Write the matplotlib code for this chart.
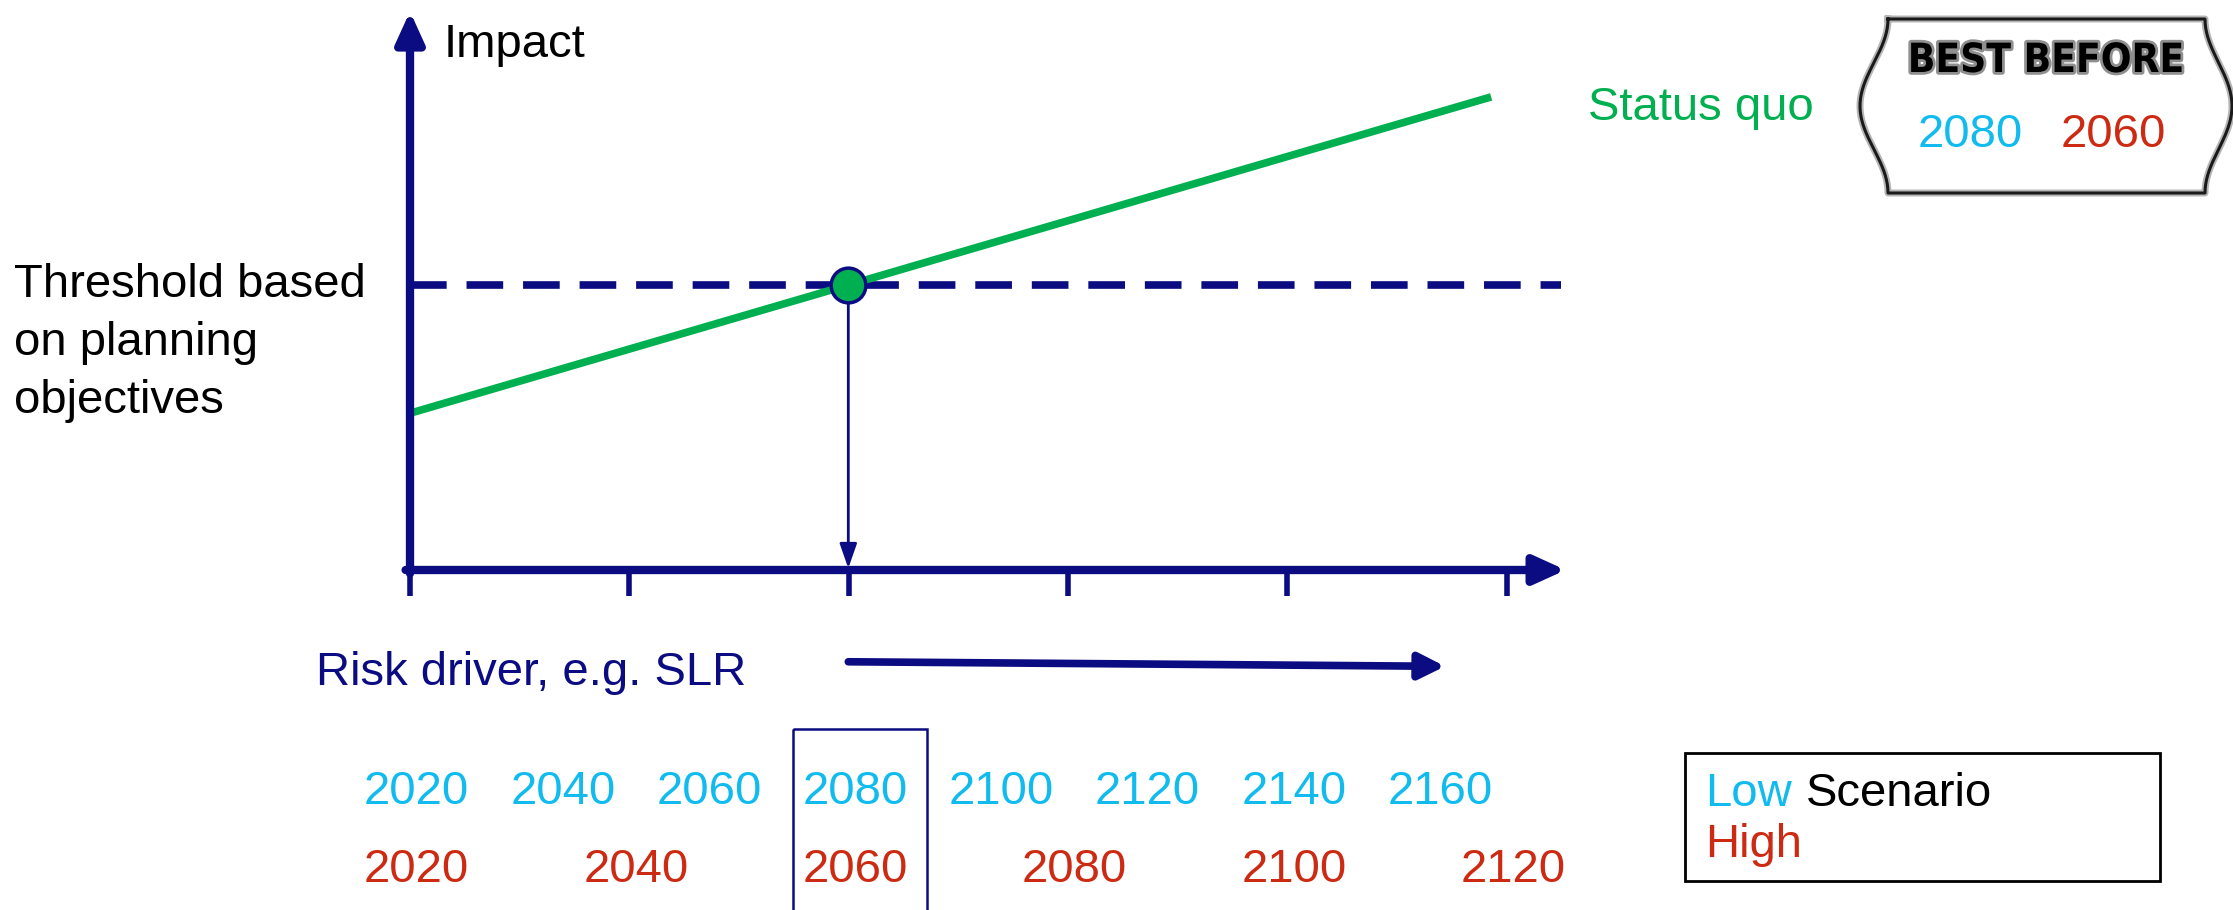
import numpy as np
import matplotlib
matplotlib.use("Agg")
import matplotlib.pyplot as plt
from matplotlib import patheffects
from matplotlib.patches import Rectangle
from matplotlib.transforms import blended_transform_factory

plt.rcParams['font.family'] = ['Liberation Sans', 'DejaVu Sans']

NAVY = '#0c0c82'
GREEN = '#00b050'
CYAN = '#12bbee'
RED = '#cc2a12'

# risk driver ticks and the status quo impact curve
driver_ticks = [0, 1, 2, 3, 4, 5]
status_quo_driver = [0.0, 4.93]
status_quo_impact = [2.75, 8.30]
threshold = 5.0

# years reached at each tick under the two scenarios
low_years = [2020, 2040, 2060, 2080, 2100, 2120, 2140, 2160]
high_years = [2020, 2040, 2060, 2080, 2100, 2120]
low_years_per_tick = 30
high_years_per_tick = 20

threshold_lines = ['Threshold based', 'on planning', 'objectives']

W, H = 2233, 910
fig = plt.figure(figsize=(W / 100, H / 100), dpi=100)

# pixel-space layer for labels and decorations
deco = fig.add_axes([0, 0, 1, 1])
deco.set_xlim(0, W)
deco.set_ylim(H, 0)
deco.axis('off')

# diagram axes: origin of the risk/impact plane
ox, oy = 410, 570
sx, sy = 219.3, 57.0
ax = fig.add_axes([0, 0, 1, 1])
ax.set_xlim(-ox / sx, (W - ox) / sx)
ax.set_ylim(-(H - oy) / sy, oy / sy)
ax.axis('off')
ax.patch.set_visible(False)

axis_arrow = dict(arrowstyle='-|>,head_length=1.1,head_width=0.5', color=NAVY,
                  lw=6, shrinkA=0, shrinkB=0, mutation_scale=17)
ax.annotate('', xy=(5.27, 0), xytext=(-0.02, 0), arrowprops=axis_arrow)
ax.annotate('', xy=(0, 9.8), xytext=(0, -0.06), arrowprops=axis_arrow)
ax.vlines(driver_ticks, -0.46, 0, color=NAVY, lw=4)

ax.plot([0, 5.25], [threshold, threshold], color=NAVY, lw=5.5,
        ls=(0, (4.8, 2.6)), dash_capstyle='butt')
ax.plot(status_quo_driver, status_quo_impact, color=GREEN, lw=5.5,
        solid_capstyle='butt')

# where the status quo crosses the threshold
x_cross = np.interp(threshold, status_quo_impact, status_quo_driver)
ax.annotate('', xy=(x_cross, 0.03), xytext=(x_cross, threshold),
            arrowprops=dict(arrowstyle='-|>,head_length=1.0,head_width=0.35',
                            color=NAVY, lw=2, shrinkA=0, shrinkB=0,
                            mutation_scale=15), zorder=3)
ax.plot(x_cross, threshold, 'o', ms=25, mfc=GREEN, mec=NAVY, mew=2.5, zorder=5)

# risk driver direction arrow
ax.annotate('', xy=(4.72, -1.69), xytext=(x_cross, -1.61),
            arrowprops=dict(arrowstyle='-|>,head_length=1.1,head_width=0.55',
                            color=NAVY, lw=5.5, shrinkA=0, shrinkB=0,
                            mutation_scale=14))

# scenario year rows under the axis
row = blended_transform_factory(ax.transData, deco.transData)
for yr in low_years:
    ax.text((yr - low_years[0]) / low_years_per_tick + 0.03, 804, str(yr),
            transform=row, ha='center', va='baseline', color=CYAN, fontsize=34)
for yr in high_years:
    ax.text((yr - high_years[0]) / high_years_per_tick + 0.03, 882, str(yr),
            transform=row, ha='center', va='baseline', color=RED, fontsize=34)
ax.add_patch(Rectangle((x_cross - 0.25, 729), 0.61, 200, transform=row,
                       fill=False, ec=NAVY, lw=1.8, clip_on=False))

# labels
deco.text(444, 57, 'Impact', fontsize=34, va='baseline')
for i, line in enumerate(threshold_lines):
    deco.text(14, 297 + 58 * i, line, fontsize=34, va='baseline')
deco.text(1588, 120, 'Status quo', fontsize=34, va='baseline', color=GREEN)
deco.text(316, 685, 'Risk driver, e.g. SLR', fontsize=34, va='baseline', color=NAVY)

# scenario key
deco.add_patch(Rectangle((1685, 753), 475, 128, fill=False, ec='black', lw=2))
low = deco.text(1705, 806, 'Low', fontsize=34, va='baseline', color=CYAN)
deco.annotate('Scenario', xy=(1, 0), xycoords=low, xytext=(10, 0),
              textcoords='offset points', va='bottom', fontsize=34)
deco.text(1705, 857, 'High', fontsize=34, va='baseline', color=RED)

# "best before" sticker
t = np.linspace(0, 1, 80)
top, bot = 19, 193
ys = top + (bot - top) * t
left = 1888 - 28 * np.sin(np.pi * t) ** 2
right = 2205 + 27 * np.sin(np.pi * t) ** 2
sx_ = np.concatenate([[1888], right, left[::-1]])
sy_ = np.concatenate([[top], ys, ys[::-1]])
deco.plot(sx_, sy_, color='#b5b5b5', lw=5, clip_on=False)
deco.plot(sx_, sy_, color='#1a1a1a', lw=2.2, clip_on=False)
deco.text(2046, 72, 'BEST BEFORE', fontsize=29, fontweight='heavy',
          family='DejaVu Sans', fontstretch='condensed',
          ha='center', va='baseline', color='black',
          path_effects=[patheffects.withStroke(linewidth=4, foreground='#8f8f8f')])
deco.text(1970, 147, str(low_years[3]), fontsize=34, ha='center', va='baseline', color=CYAN)
deco.text(2113, 147, str(high_years[2]), fontsize=34, ha='center', va='baseline', color=RED)

fig.savefig('out.png', dpi=100)
